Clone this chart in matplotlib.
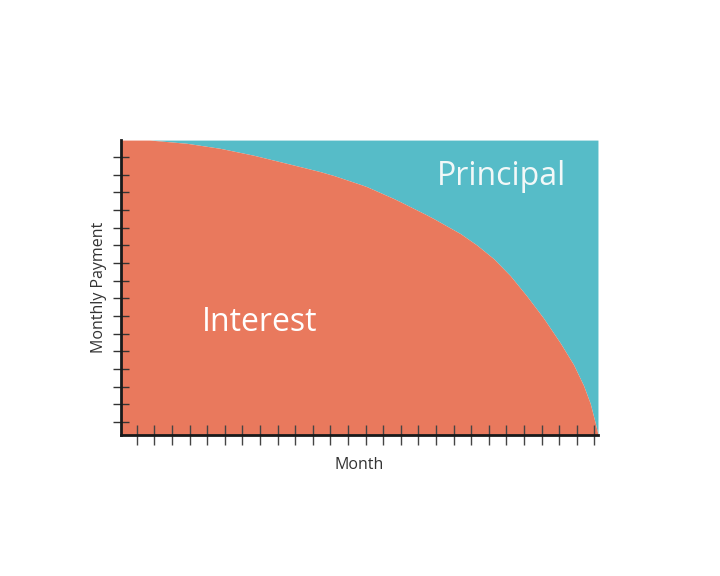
import numpy as np
import matplotlib
matplotlib.use("Agg")
import matplotlib.pyplot as plt

# Month along the loan and the share of each payment that is interest (%)
months = [0.1, 1.76, 3.85, 5.74, 7.61, 9.53, 10.28, 11.42, 12.18, 13.69,
          14.07, 15.59, 15.97, 17.48, 17.86, 19.38, 20.32, 21.27, 22.22,
          23.16, 24.11, 25.06, 25.81, 26.38, 26.76, 27.05, 27.18, 27.2]
interest = [100, 100, 98.9, 97.2, 94.9, 92.1, 91.0, 89.3, 88.0, 85.0,
            84.2, 80.2, 79.1, 74.6, 73.4, 68.3, 64.4, 59.8, 54.0,
            47.1, 39.6, 31.2, 23.9, 16.8, 10.7, 4.0, 0.7, 0]

month_ticks = np.arange(1, 28)
payment_ticks = np.linspace(4.4, 94.2, 16)

ORANGE = "#E9795D"
TEAL = "#56BCC8"

plt.rcParams["font.family"] = ["Open Sans", "DejaVu Sans"]

fig = plt.figure(figsize=(7.2, 5.76), dpi=100)
ax = fig.add_axes([0.168, 0.2448, 0.6625, 0.512])

ax.set_xlim(0.1, 27.2)
ax.set_ylim(0, 100)

# principal fills everything above the interest curve
ax.fill_between(months, interest, 100, color=TEAL, lw=0)
ax.fill_between(months, 0, interest, color=ORANGE, lw=0)

ax.text(7.95, 38.3, "Interest", color="white", fontsize=23,
        ha="center", va="center")
ax.text(21.7, 87.5, "Principal", color="#F2F8F8", fontsize=23,
        ha="center", va="center")

ax.set_xticks(month_ticks)
ax.set_yticks(payment_ticks)
ax.set_xticklabels([])
ax.set_yticklabels([])
ax.tick_params(axis="x", direction="inout", length=15, width=1, color="#444444")
ax.tick_params(axis="y", direction="inout", length=11, width=1, color="#333333")

for side in ["top", "right"]:
    ax.spines[side].set_visible(False)
for side in ["left", "bottom"]:
    ax.spines[side].set_linewidth(2)
    ax.spines[side].set_color("#1a1a1a")
    ax.spines[side].set_zorder(5)

ax.set_xlabel("Month", fontsize=11.5, color="#333333", labelpad=5)
ax.set_ylabel("Monthly Payment", fontsize=11.5, color="#333333", labelpad=1)

fig.savefig("out.png", dpi=100)
